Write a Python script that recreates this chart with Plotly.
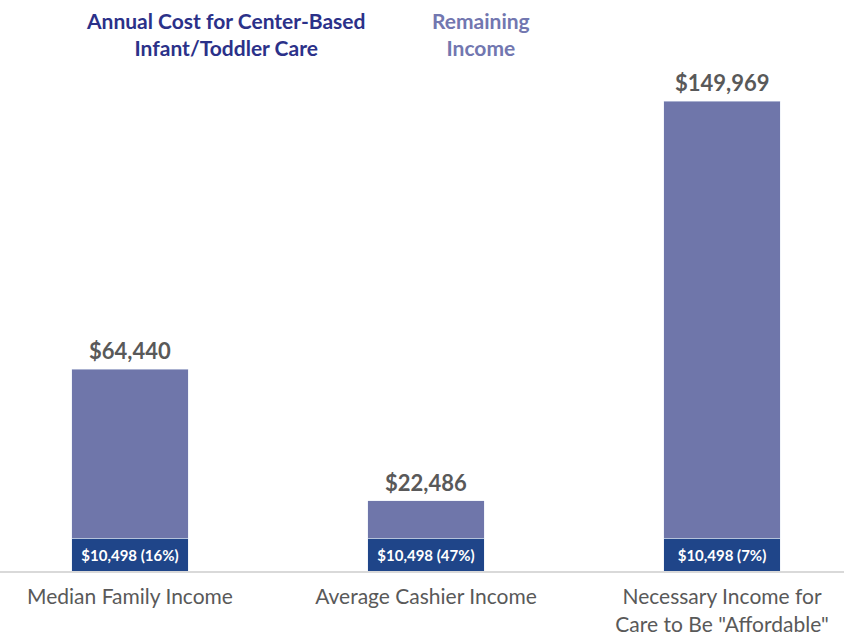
import plotly.graph_objects as go

categories = ["Median Family Income", "Average Cashier Income", "Necessary Income for<br>Care to Be \"Affordable\""]
total_income = [64440, 22486, 149969]
care_cost = [10498, 10498, 10498]
care_pct = [16, 47, 7]
remaining_income = [t - c for t, c in zip(total_income, care_cost)]

x = list(range(len(categories)))
dark = "#1f4589"
light = "#6f76aa"
font_family = "Lato, 'Open Sans', sans-serif"

fig = go.Figure()
fig.add_trace(go.Bar(
    x=x, y=care_cost, marker_color=dark, width=0.395,
    text=[f"<b>${c:,} ({p}%)</b>" for c, p in zip(care_cost, care_pct)],
    textposition="inside", insidetextanchor="middle",
    textfont=dict(color="white", size=15, family=font_family),
    name="Annual Cost for Center-Based Infant/Toddler Care", showlegend=False,
    hoverinfo="skip",
))
fig.add_trace(go.Bar(
    x=x, y=remaining_income, marker_color=light, width=0.395,
    name="Remaining Income", showlegend=False, hoverinfo="skip",
))

for xi, t in zip(x, total_income):
    fig.add_annotation(x=xi, y=t, text=f"<b>${t:,}</b>", showarrow=False,
                       yanchor="bottom", yshift=3,
                       font=dict(size=22, color="#595959", family=font_family))

fig.add_annotation(xref="paper", yref="paper", x=225/844, y=1 + (90-34)/481,
                   xanchor="center", yanchor="middle",
                   text="<b>Annual Cost for Center-Based<br>Infant/Toddler Care</b>",
                   showarrow=False, align="center",
                   font=dict(size=21, color="#2b3189", family=font_family))
fig.add_annotation(xref="paper", yref="paper", x=481/844, y=1 + (90-34)/481,
                   xanchor="center", yanchor="middle",
                   text="<b>Remaining<br>Income</b>",
                   showarrow=False, align="center",
                   font=dict(size=21, color="#7277b0", family=font_family))

fig.update_layout(
    barmode="stack",
    width=844, height=639,
    margin=dict(l=0, r=0, t=90, b=68),
    plot_bgcolor="white", paper_bgcolor="white",
    xaxis=dict(tickmode="array", tickvals=x, ticktext=categories,
               range=[-130/296, 2 + 122/296],
               showline=True, linecolor="#d9d9d9", linewidth=2,
               ticks="", showgrid=False, zeroline=False, automargin=False,
               ticklabelstandoff=6,
               tickfont=dict(size=21, color="#595959", family=font_family)),
    yaxis=dict(range=[0, 149969*481/470], visible=False, showgrid=False, zeroline=False),
    font=dict(family=font_family),
)

fig.write_html("out.html", config={"displayModeBar": False},
               post_script="document.body.style.margin='0';document.body.style.padding='0';")
